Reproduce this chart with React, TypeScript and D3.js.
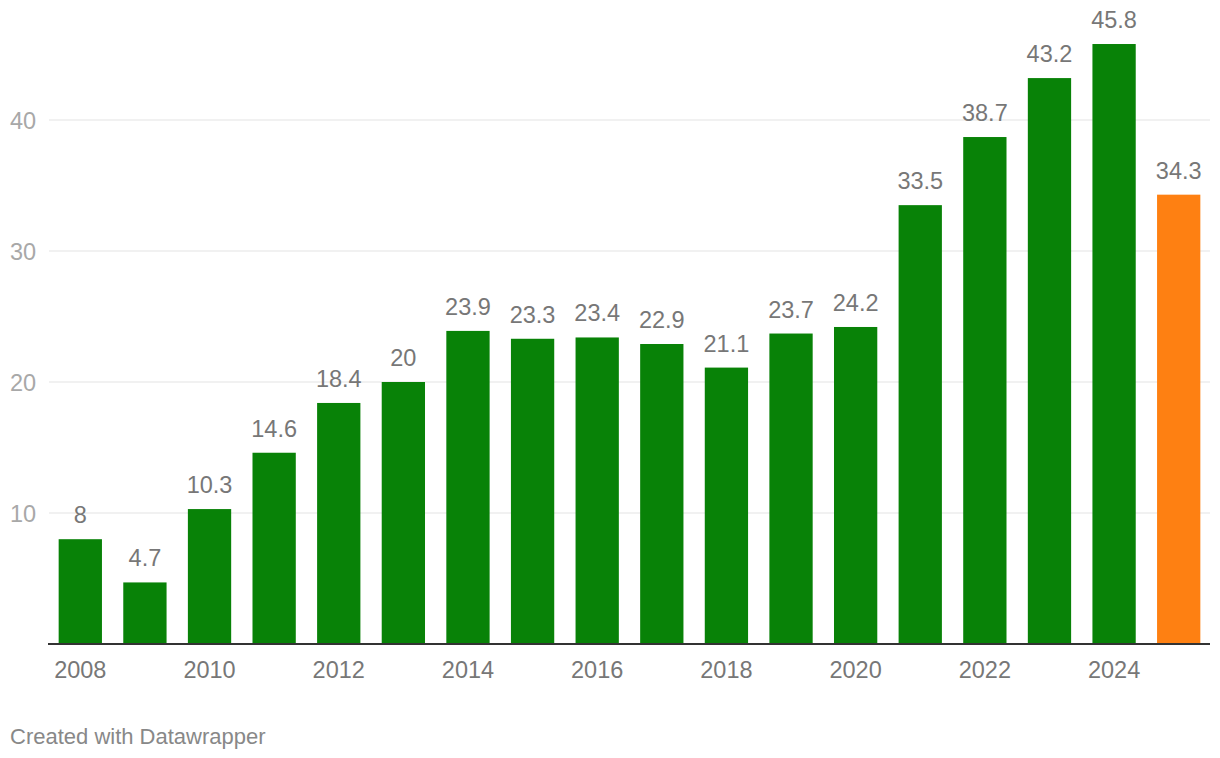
import React from "react";
import * as d3 from "d3";

const years = [2008, 2009, 2010, 2011, 2012, 2013, 2014, 2015, 2016, 2017, 2018, 2019, 2020, 2021, 2022, 2023, 2024, 2025];
const values = [8, 4.7, 10.3, 14.6, 18.4, 20, 23.9, 23.3, 23.4, 22.9, 21.1, 23.7, 24.2, 33.5, 38.7, 43.2, 45.8, 34.3];
const highlightYears = [2025];
const yTicks = [10, 20, 30, 40];
const xTickYears = [2008, 2010, 2012, 2014, 2016, 2018, 2020, 2022, 2024];

const W = 1220;
const H = 758;
const FONT = "'Liberation Sans', Arial, Helvetica, sans-serif";

export default function App() {
  const x = d3
    .scaleBand<number>()
    .domain(years)
    .range([48, 1211])
    .paddingInner(0.33)
    .paddingOuter(0.165);
  const y = d3.scaleLinear().domain([0, 40]).range([644, 120]);
  const fmt = (v: number) => String(v);

  return (
    <svg
      width={W}
      height={H}
      style={{ position: "absolute", left: 0, top: 0, background: "#fff" }}
      fontFamily={FONT}
    >
      {yTicks.map((t) => (
        <g key={t}>
          <line x1={49} x2={1210} y1={y(t)} y2={y(t)} stroke="#e3e3e3" strokeWidth={1.2} />
          <text x={10} y={y(t) + 8.5} fontSize={23.5} fill="#a8a8a8">
            {t}
          </text>
        </g>
      ))}
      {years.map((yr, i) => {
        const v = values[i];
        const bx = x(yr)!;
        const bw = x.bandwidth();
        const color = highlightYears.includes(yr) ? "#fe8012" : "#088207";
        return (
          <g key={yr}>
            <rect x={bx} y={y(v)} width={bw} height={y(0) - y(v)} fill={color} />
            <text
              x={bx + bw / 2}
              y={y(v) - 16}
              textAnchor="middle"
              fontSize={23.5}
              fill="#777"
            >
              {fmt(v)}
            </text>
          </g>
        );
      })}
      <line x1={48} x2={1210} y1={y(0)} y2={y(0)} stroke="#333" strokeWidth={2} />
      {xTickYears.map((yr) => (
        <text
          key={yr}
          x={x(yr)! + x.bandwidth() / 2}
          y={678}
          textAnchor="middle"
          fontSize={23.5}
          fill="#777"
        >
          {yr}
        </text>
      ))}
      <text x={10} y={744} fontSize={22} fill="#888">
        Created with Datawrapper
      </text>
    </svg>
  );
}
